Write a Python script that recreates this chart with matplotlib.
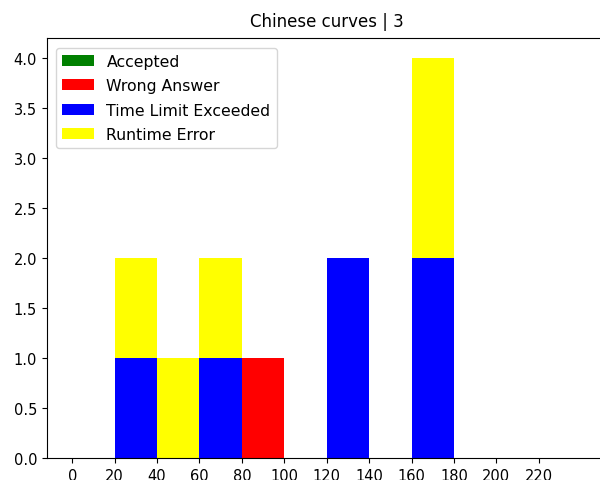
import numpy as np
import matplotlib
matplotlib.use('Agg')
import matplotlib.pyplot as plt

# histogram bins (left edges), width 20
bin_edges = list(range(0, 241, 20))
accepted = [0, 0, 0, 0, 0, 0, 0, 0, 0, 0, 0, 0]
wrong_answer = [0, 0, 0, 0, 1, 0, 0, 0, 0, 0, 0, 0]
time_limit = [0, 1, 0, 1, 0, 0, 2, 0, 2, 0, 0, 0]
runtime_error = [0, 1, 1, 1, 0, 0, 0, 0, 2, 0, 0, 0]

series = [
    ('Accepted', accepted, 'green'),
    ('Wrong Answer', wrong_answer, 'red'),
    ('Time Limit Exceeded', time_limit, 'blue'),
    ('Runtime Error', runtime_error, 'yellow'),
]

fig = plt.figure(figsize=(6, 4.81), dpi=100)
ax = fig.add_axes([0.078, 0.0457, 0.933, 0.873])

lefts = np.array(bin_edges[:-1])
bottom = np.zeros(len(lefts))
for name, vals, col in series:
    vals = np.array(vals, dtype=float)
    ax.bar(lefts, vals, width=20, bottom=bottom, align='edge', color=col, label=name)
    bottom += vals

ax.set_xlim(-12, 252)
ax.set_ylim(0, 4.2)
ax.set_xticks(range(0, 240, 20))
ax.set_yticks(np.arange(0, 4.01, 0.5))
ax.tick_params(labelsize=10.5)
ax.set_title('Chinese curves | 3', fontsize=12, pad=9)
ax.legend(loc='upper left', fontsize=11.3, labelspacing=0.6, borderaxespad=0.6)

fig.savefig('out.png', dpi=100)
